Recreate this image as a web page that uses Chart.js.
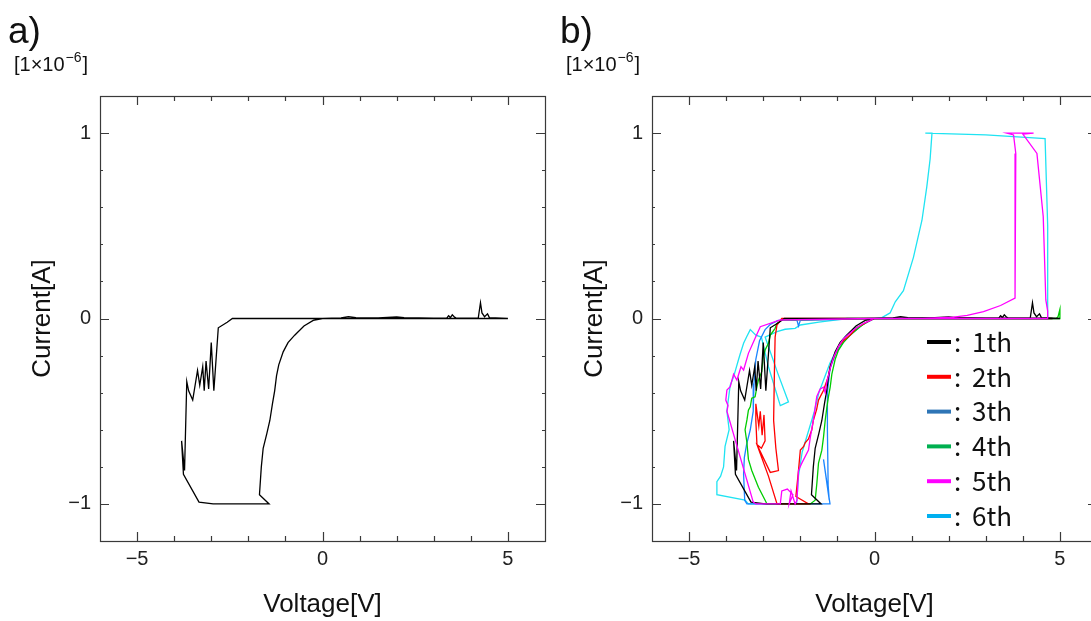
<!DOCTYPE html>
<html><head><meta charset="utf-8">
<script src="https://cdn.jsdelivr.net/npm/chart.js@4.4.1/dist/chart.umd.min.js"></script>
<style>
html,body{margin:0;padding:0;background:#fff;width:1091px;height:621px;overflow:hidden;position:relative;}
.wrap{position:absolute;top:0;height:621px;width:560px;}
#wa{left:0}
#wb{left:552px}
</style></head><body>
<div class="wrap" id="wa"><canvas id="ca" width="560" height="621"></canvas></div>
<div class="wrap" id="wb"><canvas id="cb" width="560" height="621"></canvas></div>
<script>
// ---- tick labels / axis ----
const xTickLabels = [-5, 0, 5];
const yTickLabels = [-1, 0, 1];
const xRange = [-6, 6];
const yRange = [-1.2, 1.2];
const panelNames = ['a)', 'b)'];
const seriesNames = ['1th', '2th', '3th', '4th', '5th', '6th'];
const lineColors = ['#000000', '#ff0000', '#1a85ff', '#00cc00', '#ff00ff', '#1fe3f2'];
const legendColors = ['#000000', '#ff0000', '#2e75b6', '#00b050', '#ff00ff', '#00b0f0'];

// ---- data: [voltage (V), current (x1e-6 A)] ----
const run1 = [[0,0],[0.5,0.003],[0.7,0.01],[0.9,0.005],[1.5,0.003],[2.0,0.008],[2.2,0.005],[3.0,0.002],[3.35,0.002],[3.4,0.015],[3.45,0.005],[3.5,0.02],[3.55,0.01],[3.6,0.002],[4.2,0.002],[4.26,0.085],[4.3,0.03],[4.37,0.01],[4.45,0.025],[4.5,0.005],[5.0,0],[2.0,0],[0,0],
 [-2.43,0],[-2.57,-0.02],[-2.81,-0.05],[-2.93,-0.39],[-3.0,-0.13],[-3.07,-0.38],[-3.14,-0.23],[-3.19,-0.39],[-3.23,-0.26],[-3.31,-0.36],[-3.37,-0.28],[-3.5,-0.44],[-3.61,-0.39],[-3.66,-0.34],[-3.72,-0.82],[-3.8,-0.66],[-3.75,-0.84],[-3.33,-0.99],[-2.95,-1.0],[-1.44,-1.0],
 [-1.7,-0.95],[-1.65,-0.8],[-1.6,-0.7],[-1.5,-0.62],[-1.42,-0.55],[-1.35,-0.46],[-1.29,-0.39],[-1.24,-0.31],[-1.18,-0.25],[-1.06,-0.18],[-0.93,-0.13],[-0.75,-0.09],[-0.5,-0.04],[-0.25,-0.01],[0,0]];
const run2 = [[0,0],[4.8,0],[0,0],[-2.5,0],[-2.63,-0.035],[-2.68,-0.1],[-2.7,-0.3],[-2.72,-0.55],[-2.66,-0.7],[-2.59,-0.82],[-2.81,-0.83],[-3.17,-0.68],[-3.2,-0.55],[-3.2,-0.46],[-3.12,-0.58],[-3.08,-0.5],[-3.03,-0.63],[-2.98,-0.52],[-2.95,-0.66],[-3.05,-0.7],[-3.17,-0.68],[-2.86,-0.85],[-2.63,-1.0],[-1.78,-1.0],
 [-2.12,-0.96],[-2.05,-0.82],[-2.0,-0.71],[-1.91,-0.69],[-1.87,-0.67],[-1.78,-0.65],[-1.69,-0.6],[-1.65,-0.55],[-1.56,-0.49],[-1.51,-0.44],[-1.38,-0.39],[-1.24,-0.31],[-1.2,-0.26],[-1.1,-0.21],[-0.97,-0.15],[-0.84,-0.12],[-0.66,-0.09],[-0.48,-0.05],[-0.21,-0.02],[0,0]];
const run3 = [[0,0],[4.8,0],[0,0],[-2.0,-0.01],[-2.05,-0.04],[-2.09,-0.01],[-2.6,-0.01],[-2.8,-0.03],[-2.95,-0.06],[-3.1,-0.12],[-3.2,-0.22],[-3.25,-0.35],[-3.27,-0.5],[-3.35,-0.6],[-3.45,-0.68],[-3.51,-0.75],[-3.53,-0.84],[-3.5,-0.98],[-3.44,-1.0],[-1.2,-1.0],
 [-1.375,-0.76],[-1.22,-0.98],[-1.25,-0.9],[-1.27,-0.6],[-1.27,-0.4],[-1.2,-0.27],[-1.05,-0.19],[-0.85,-0.13],[-0.6,-0.08],[-0.3,-0.03],[0,0]];
const run4 = [[0,0],[4.9,0],[4.95,0.01],[5.0,0.05],[5.0,0],[0,0],[-2.5,-0.008],[-2.63,-0.026],[-2.68,-0.053],[-2.81,-0.089],[-2.86,-0.134],[-2.95,-0.17],[-3.0,-0.206],[-3.04,-0.287],[-3.13,-0.332],[-3.17,-0.368],[-3.22,-0.422],[-3.31,-0.43],[-3.35,-0.476],[-3.4,-0.494],[-3.44,-0.547],[-3.49,-0.6],[-3.44,-0.67],[-3.4,-0.76],[-3.31,-0.82],[-3.13,-0.91],[-2.95,-0.98],[-2.9,-1.0],[-1.73,-1.0],
 [-1.6,-0.98],[-1.555,-0.89],[-1.51,-0.78],[-1.42,-0.71],[-1.375,-0.64],[-1.33,-0.55],[-1.285,-0.48],[-1.24,-0.42],[-1.195,-0.37],[-1.15,-0.3],[-1.06,-0.22],[-0.97,-0.17],[-0.84,-0.13],[-0.66,-0.09],[-0.39,-0.044],[-0.12,-0.008],[0,0]];
const run5 = [[0,0],[4.67,0],[4.67,0.04],[4.62,0.1],[4.55,0.55],[4.38,0.89],[4.0,0.995],[4.29,1.0],[3.57,1.0],[3.75,0.99],[3.81,0.89],[3.79,0.11],[3.4,0.07],[2.94,0.037],[2.5,0.017],[2.13,0.007],[1.3,0.001],[0,0],
 [-2.54,-0.008],[-3.08,-0.044],[-3.22,-0.107],[-3.4,-0.188],[-3.53,-0.278],[-3.6,-0.26],[-3.71,-0.332],[-3.8,-0.3],[-3.89,-0.368],[-3.98,-0.386],[-4.01,-0.44],[-3.95,-0.47],[-3.98,-0.5],[-3.27,-0.99],[-3.2,-1.0],[-2.54,-1.0],[-2.5,-0.93],[-2.35,-0.92],[-2.2,-0.95],[-2.3,-1.0],[-2.25,-0.93],[-2.14,-1.0],
 [-2.09,-0.98],[-2.05,-0.82],[-1.96,-0.78],[-1.78,-0.71],[-1.73,-0.64],[-1.65,-0.55],[-1.6,-0.48],[-1.556,-0.42],[-1.465,-0.38],[-1.375,-0.37],[-1.33,-0.4],[-1.285,-0.34],[-1.195,-0.27],[-1.105,-0.21],[-0.97,-0.15],[-0.84,-0.11],[-0.566,-0.062],[-0.296,-0.026],[0,0]];
const run6 = [[0,0],[4.67,0],[4.67,0.5],[4.6,0.97],[3.0,0.99],[1.37,1.0],[1.55,1.0],[1.5,0.86],[1.41,0.71],[1.28,0.53],[1.05,0.33],[0.78,0.15],[0.56,0.09],[0.42,0.03],[0.2,0.005],[0,0],
 [-0.74,0],[-1.5,-0.02],[-2.0,-0.035],[-2.14,-0.053],[-2.41,-0.058],[-2.63,-0.071],[-2.95,-0.1],[-2.6,-0.3],[-2.32,-0.45],[-2.54,-0.47],[-2.86,-0.26],[-3.05,-0.1],[-3.2,-0.09],[-3.35,-0.06],[-3.45,-0.1],[-3.53,-0.134],[-3.62,-0.19],[-3.67,-0.224],[-3.75,-0.28],[-3.8,-0.314],[-3.89,-0.36],[-3.95,-0.45],[-3.98,-0.5],[-3.92,-0.6],[-4.03,-0.69],[-4.07,-0.8],[-4.15,-0.85],[-4.25,-0.88],[-4.25,-0.95],[-3.49,-0.98],[-3.4,-1.0],[-2.1,-1.0],
 [-2.05,-0.85],[-1.95,-0.72],[-1.8,-0.62],[-1.62,-0.5],[-1.5,-0.4],[-1.35,-0.32],[-1.2,-0.24],[-1.0,-0.16],[-0.8,-0.1],[-0.5,-0.05],[-0.2,-0.02],[0,0]];

const panelARuns = [run1];
const panelBRuns = [run1, run2, run3, run4, run5, run6];
const drawOrder = [1, 2, 4, 3, 0, 5];

const FONT = "'Liberation Sans', Arial, sans-serif";
const toPts = r => r.map(p => ({x: p[0], y: p[1]}));
const fmt = v => (v < 0 ? '\u2212' + Math.abs(v) : String(v));

const framePlugin = {
  id: 'frame',
  afterDatasetsDraw(chart) {
    const {ctx, chartArea: a, scales: {x, y}} = chart;
    ctx.save();
    ctx.strokeStyle = '#3a3a3a';
    ctx.lineWidth = 1.2;
    ctx.strokeRect(a.left + 0.5, a.top + 0.5, a.right - a.left, a.bottom - a.top);
    ctx.beginPath();
    for (let v = xRange[0] + 1; v < xRange[1]; v++) {
      const px = Math.round(x.getPixelForValue(v)) + 0.5;
      const len = xTickLabels.includes(v) ? 9 : 5;
      ctx.moveTo(px, a.bottom); ctx.lineTo(px, a.bottom - len);
      ctx.moveTo(px, a.top); ctx.lineTo(px, a.top + len);
    }
    for (let k = -5; k <= 5; k++) {
      const v = k * 0.2;
      const py = Math.round(y.getPixelForValue(v)) + 0.5;
      const len = (k % 5 === 0) ? 9 : 3;
      ctx.moveTo(a.left, py); ctx.lineTo(a.left + len, py);
      ctx.moveTo(a.right, py); ctx.lineTo(a.right - len, py);
    }
    ctx.stroke();
    ctx.restore();
  }
};

const headerPlugin = {
  id: 'header',
  afterDraw(chart, args, opts) {
    const {ctx, chartArea: a} = chart;
    ctx.save();
    ctx.fillStyle = '#111';
    ctx.textBaseline = 'alphabetic';
    ctx.textAlign = 'left';
    ctx.font = '37px ' + FONT;
    ctx.fillText(opts.letter, a.left - 92, 43);
    let xx = a.left - 86;
    ctx.font = '20px ' + FONT;
    const t1 = '[1\u00d710';
    ctx.fillText(t1, xx, 71);
    xx += ctx.measureText(t1).width + 1;
    ctx.font = '14px ' + FONT;
    ctx.fillText('\u22126', xx, 62);
    xx += ctx.measureText('\u22126').width + 1;
    ctx.font = '20px ' + FONT;
    ctx.fillText(']', xx, 71);
    ctx.restore();
  }
};

const legendPlugin = {
  id: 'customLegend',
  afterDraw(chart, args, opts) {
    if (!opts.show) return;
    const {ctx, chartArea: a} = chart;
    ctx.save();
    ctx.textBaseline = 'middle';
    ctx.textAlign = 'left';
    ctx.font = "26px 'Noto Sans CJK JP', sans-serif";
    seriesNames.forEach((name, i) => {
      const yy = 342 + i * 34.8;
      ctx.strokeStyle = legendColors[i];
      ctx.lineWidth = 4;
      ctx.beginPath();
      ctx.moveTo(a.left + 275, yy); ctx.lineTo(a.left + 299, yy);
      ctx.stroke();
      ctx.fillStyle = '#111';
      ctx.fillText(':', a.left + 302, yy);
      ctx.fillText(name, a.left + 320, yy);
    });
    ctx.restore();
  }
};

function makeChart(id, runs, letter, isB) {
  const datasets = runs.map((r, i) => ({
    label: seriesNames[i],
    data: toPts(r),
    showLine: true,
    borderColor: isB ? lineColors[i] : '#000000',
    borderWidth: 1.3,
    pointRadius: 0,
    tension: 0,
    fill: false,
    order: isB ? drawOrder[i] : 0
  }));
  return new Chart(document.getElementById(id), {
    type: 'scatter',
    data: {datasets},
    plugins: [framePlugin, headerPlugin, legendPlugin],
    options: {
      responsive: false,
      animation: false,
      layout: {padding: {top: 96, right: 15, left: 0, bottom: 0}},
      plugins: {
        legend: {display: false},
        tooltip: {enabled: false},
        header: {letter},
        customLegend: {show: isB}
      },
      scales: {
        x: {
          type: 'linear', min: xRange[0], max: xRange[1],
          afterBuildTicks: s => { s.ticks = xTickLabels.map(v => ({value: v})); },
          afterFit: s => { s.height = 80; },
          grid: {display: false, drawTicks: false},
          border: {display: false},
          ticks: {padding: 6, color: '#222', font: {family: FONT, size: 20}, maxRotation: 0, callback: fmt},
          title: {display: true, text: 'Voltage[V]', color: '#111', font: {family: FONT, size: 26}, padding: {top: 0, bottom: 1}}
        },
        y: {
          type: 'linear', min: yRange[0], max: yRange[1],
          afterBuildTicks: s => { s.ticks = yTickLabels.map(v => ({value: v})); },
          afterFit: s => { s.width = 100; },
          grid: {display: false, drawTicks: false},
          border: {display: false},
          ticks: {padding: 9, color: '#222', font: {family: FONT, size: 20}, callback: fmt},
          title: {display: true, text: 'Current[A]', color: '#111', font: {family: FONT, size: 26}, padding: {top: 27, bottom: 0}}
        }
      }
    }
  });
}

makeChart('ca', panelARuns, panelNames[0], false);
makeChart('cb', panelBRuns, panelNames[1], true);
</script>
</body></html>
